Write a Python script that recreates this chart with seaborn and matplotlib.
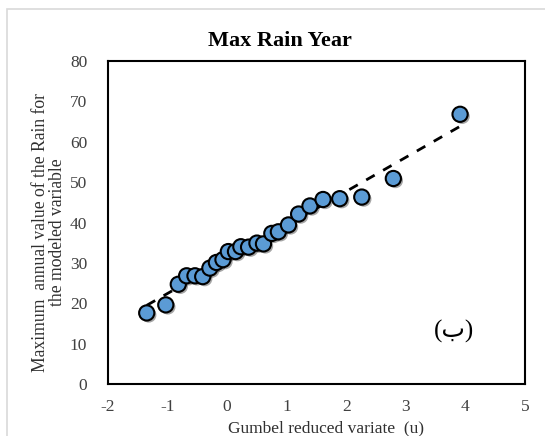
import numpy as np
import pandas as pd
import matplotlib
matplotlib.use("Agg")
import matplotlib.pyplot as plt
import matplotlib.patheffects as pe
from matplotlib.patches import Rectangle
import seaborn as sns

# Gumbel reduced variate (u) and max annual rain values
u_values = [-1.35, -1.03, -0.82, -0.68, -0.54, -0.41, -0.29, -0.18, -0.07, 0.02,
            0.14, 0.23, 0.36, 0.50, 0.61, 0.75, 0.86, 1.03, 1.20, 1.39,
            1.61, 1.89, 2.26, 2.79, 3.91]
rain_values = [17.6, 19.6, 24.7, 26.8, 26.8, 26.6, 28.7, 30.1, 30.8, 32.8,
               32.8, 34.0, 33.9, 34.9, 34.7, 37.3, 37.7, 39.4, 42.1, 44.1,
               45.7, 45.9, 46.3, 50.9, 66.8]
x_ticks = [-2, -1, 0, 1, 2, 3, 4, 5]
y_ticks = [0, 10, 20, 30, 40, 50, 60, 70, 80]

df = pd.DataFrame({"u": u_values, "rain": rain_values})

sns.set_theme(style="white")
plt.rcParams["font.family"] = ["Liberation Serif", "DejaVu Sans"]

fig = plt.figure(figsize=(5.45, 4.36), dpi=100)
fig.patches.append(Rectangle((7 / 545, -0.1), 1.2, 1.1 - 9 / 436,
                             transform=fig.transFigure, fill=False,
                             edgecolor="#d9d9d9", linewidth=1.2, zorder=0))
ax = fig.add_axes([108 / 545, 1 - 384 / 436, (525 - 108) / 545, (384 - 61) / 436])

# Linear trend line (dashed)
coef = np.polyfit(df["u"], df["rain"], 1)
xs = np.array([df["u"].min(), df["u"].max()])
ax.plot(xs, np.polyval(coef, xs), linestyle=(0, (3.5, 3.5)), color="black",
        linewidth=2.0, zorder=2)

sns.scatterplot(data=df, x="u", y="rain", ax=ax, s=120, color="#5b9bd5",
                edgecolor="black", linewidth=1.5, zorder=3, legend=False)
for coll in ax.collections:
    coll.set_path_effects([pe.SimplePatchShadow(offset=(1.5, -1.5), alpha=0.35,
                                                shadow_rgbFace="black"),
                           pe.Normal()])

ax.set_xlim(-2, 5)
ax.set_ylim(0, 80)
ax.set_xticks(x_ticks)
ax.set_yticks(y_ticks)
ax.set_xticklabels([str(t) for t in x_ticks])
ax.set_yticklabels([str(t) for t in y_ticks])
ax.tick_params(axis="both", labelsize=12.5, length=0, colors="#404040")
ax.tick_params(axis="x", pad=10.5)
ax.tick_params(axis="y", pad=15)
for s in ax.spines.values():
    s.set_color("black")
    s.set_linewidth(1.5)
ax.set_xlabel("")
ax.set_ylabel("")

fig.text(326 / 545, 1 - 428 / 436, "Gumbel reduced variate  (u)", ha="center",
         va="center", fontsize=12.5, color="#303030")
fig.text(49 / 545, 1 - 232 / 436,
         "Maximum  annual value of the Rain for\nthe modeled variable",
         rotation=90, ha="center", va="center", multialignment="center",
         fontsize=12.7, color="#303030", linespacing=1.0)
fig.text(280 / 545, 1 - 41 / 436, "Max Rain Year", ha="center", va="center",
         fontsize=16, fontweight="bold", color="black")
ax.text(3.81, 13.1, "(ب)", ha="center", va="center", fontsize=18,
        family=["Liberation Serif", "DejaVu Sans"], color="black")

fig.savefig("out.png", dpi=100)
